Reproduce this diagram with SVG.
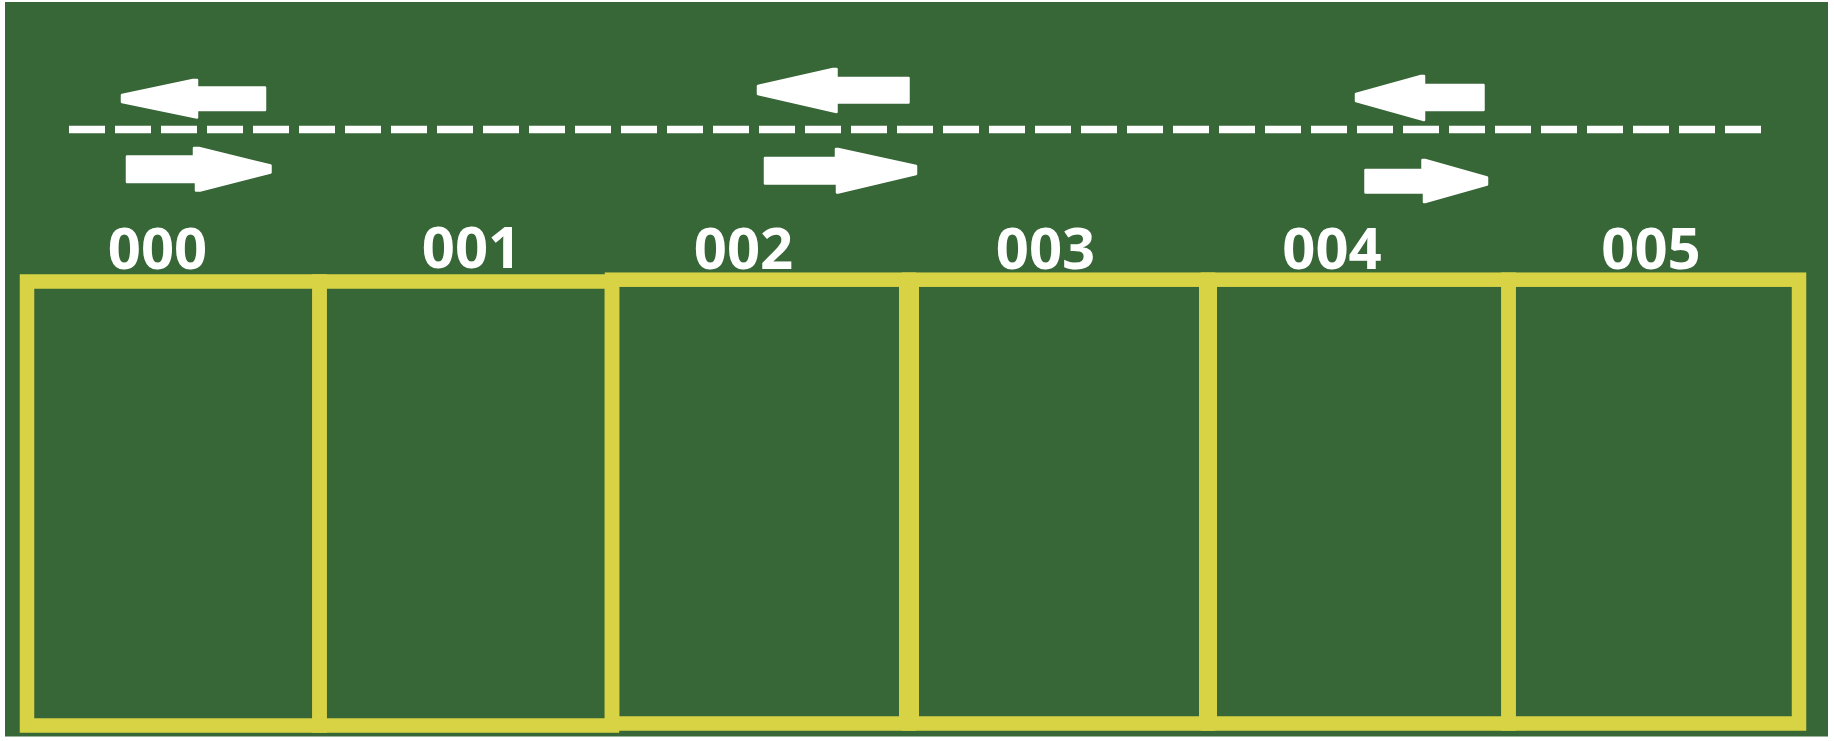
<svg xmlns="http://www.w3.org/2000/svg" width="1834" height="741" viewBox="0 0 1834 741">
  <style>
    .space { fill: none; stroke: #d8d344; stroke-width: 14.5; }
    .div { stroke: #d8d344; }
    .label { font-family: "Noto Sans", "Open Sans", "Liberation Sans", sans-serif; font-weight: 700; font-size: 58px; fill: #ffffff; text-anchor: middle; }
    .arrow { fill: #ffffff; stroke: #ffffff; stroke-width: 2.5; stroke-linejoin: round; }
    .lane { stroke: #ffffff; stroke-width: 7.5; stroke-dasharray: 36 10; fill: none; }
  </style>
  <rect x="0" y="0" width="1834" height="741" fill="#ffffff"/>
  <rect x="5" y="2" width="1823" height="734.5" fill="#376637"/>

  <g id="road">
    <line class="lane" x1="69" y1="129.5" x2="1763" y2="129.5"/>
    <polygon class="arrow" points="122,95 193,80 197,80 197,87.5 265,87.5 265,110 197,110 197,117.5 122,102"/>
    <polygon class="arrow" points="127,156.5 194,156.5 194,148 199,148 270.5,165.5 270.5,172.5 200,190.5 196,190.5 196,182 127,182"/>
    <polygon class="arrow" points="758,86 833,69 836.5,69 836.5,78 908.5,78 908.5,102.5 836.5,102.5 836.5,112 758,94"/>
    <polygon class="arrow" points="765,158 836,158 836,149 838,149 916,166 916,174 838,192.5 837,192.5 837,183.5 765,183.5"/>
    <polygon class="arrow" points="1356,94 1421,76 1424,76 1424,85 1483.5,85 1483.5,110 1424,110 1424,120 1356,101"/>
    <polygon class="arrow" points="1365.5,170 1422.5,170 1422.5,160 1425,160 1487,177.5 1487,184.5 1425,202 1424,202 1424,192.5 1365.5,192.5"/>
  </g>

  <g id="space-000">
    <rect class="space" x="27" y="281.5" width="292.5" height="444"/>
    <text class="label" x="157.5" y="269">000</text>
  </g>
  <g id="space-001">
    <rect class="space" x="319.5" y="281.5" width="292.5" height="444"/>
    <text class="label" x="471.5" y="268">001</text>
  </g>
  <g id="space-002">
    <rect class="space" x="612" y="279.7" width="297" height="443.8"/>
    <text class="label" x="743.5" y="269">002</text>
  </g>
  <g id="space-003">
    <rect class="space" x="909" y="279.7" width="299" height="443.8"/>
    <line class="div" x1="909" y1="279.7" x2="909" y2="723.5" stroke-width="20"/>
    <text class="label" x="1045.5" y="269">003</text>
  </g>
  <g id="space-004">
    <rect class="space" x="1208" y="279.7" width="300.5" height="443.8"/>
    <line class="div" x1="1208" y1="279.7" x2="1208" y2="723.5" stroke-width="18"/>
    <text class="label" x="1332" y="269">004</text>
  </g>
  <g id="space-005">
    <rect class="space" x="1508.5" y="279.7" width="290.5" height="443.8"/>
    <text class="label" x="1651" y="269">005</text>
  </g>
</svg>
